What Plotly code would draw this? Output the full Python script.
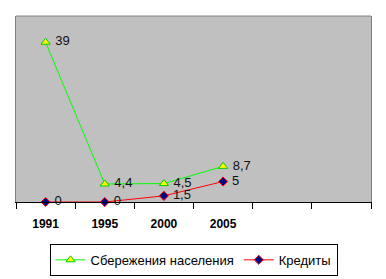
import plotly.graph_objects as go

years = ["1991", "1995", "2000", "2005"]
savings = [39, 4.4, 4.5, 8.7]
credits = [0, 0, 1.5, 5]
savings_labels = ["39", "4,4", "4,5", "8,7"]
credits_labels = ["0", "0", "1,5", "5"]
n_slots = 6

xpos = list(range(len(years)))
lab_font = dict(family="Liberation Sans, Arial", size=13, color="#111111")

fig = go.Figure()
fig.add_trace(go.Scatter(
    x=xpos, y=savings, mode="lines+markers+text", name="Сбережения населения",
    line=dict(color="#00FF00", width=1),
    marker=dict(symbol="triangle-up", size=8, color="#FFFF00", line=dict(color="#00CC00", width=1)),
    text=savings_labels, texttemplate=" %{text}", textposition="middle right",
    textfont=lab_font, cliponaxis=False,
))
fig.add_trace(go.Scatter(
    x=xpos, y=credits, mode="lines+markers+text", name="Кредиты",
    line=dict(color="#FF0000", width=1),
    marker=dict(symbol="diamond", size=7, color="#000080", line=dict(color="#FF0000", width=1)),
    text=credits_labels, texttemplate=" %{text}", textposition="middle right",
    textfont=lab_font, cliponaxis=False,
))

fig.update_layout(
    width=386, height=279,
    margin=dict(l=16, r=15, t=16, b=77, autoexpand=False),
    paper_bgcolor="white", plot_bgcolor="#C0C0C0",
    showlegend=True,
    legend=dict(
        orientation="h", x=0.5, xanchor="center", y=-0.225, yanchor="top",
        bordercolor="#000000", borderwidth=1, bgcolor="white",
        font=dict(family="Liberation Sans, Arial", size=13, color="#000000"),
        tracegroupgap=0,
    ),
    xaxis=dict(
        range=[-0.5, n_slots - 0.5], automargin=False,
        tickmode="array", tickvals=xpos, ticktext=years,
        ticks="outside", ticklen=11, tickcolor="rgba(0,0,0,0)",
        tickfont=dict(family="Liberation Sans, Arial", size=12, color="#000000", weight="bold"),
        showline=True, linecolor="#000000", linewidth=1,
        showgrid=False, zeroline=False,
        minor=dict(tickmode="array", tickvals=[i - 0.5 for i in range(n_slots + 1)],
                   ticks="outside", ticklen=6, tickcolor="#000000", showgrid=False),
    ),
    yaxis=dict(
        range=[0, 45.4], showticklabels=False, ticks="", showgrid=False, zeroline=False,
        showline=True, linecolor="#808080", linewidth=1, mirror=True, automargin=False,
    ),
    shapes=[dict(type="line", xref="paper", yref="paper", x0=0, x1=1, y0=1, y1=1,
                 line=dict(color="#808080", width=1))],
)

fig.write_html("out.html")
